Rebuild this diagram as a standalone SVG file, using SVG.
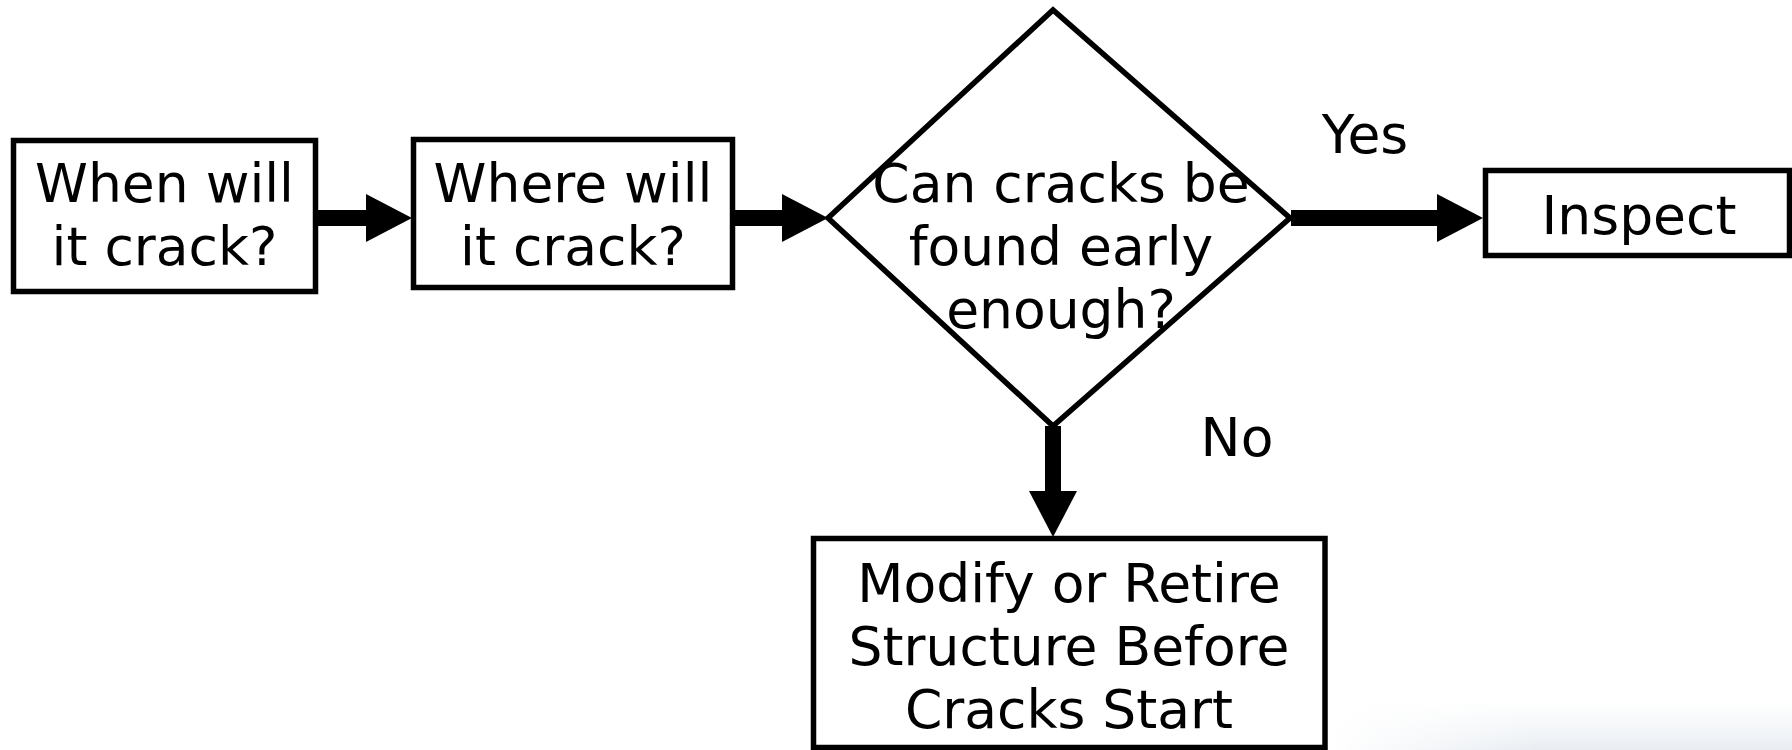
<svg xmlns="http://www.w3.org/2000/svg" width="1792" height="750" viewBox="0 0 1792 750">
  <style>
    .box { fill: #ffffff; stroke: #000000; stroke-width: 5.5; }
    .lbl { font-family: "DejaVu Sans", "Verdana", sans-serif; font-size: 53.5px; fill: #000000; text-anchor: middle; }
    .edge { stroke: #000000; stroke-width: 16; fill: none; marker-end: url(#head); }
  </style>
  <defs>
    <marker id="head" markerUnits="userSpaceOnUse" markerWidth="47" markerHeight="48" refX="0" refY="24" orient="auto" overflow="visible">
      <path d="M0,0 L46,24 L0,48 Z" fill="#000000"/>
    </marker>
    <linearGradient id="fadeV" x1="0" y1="0" x2="0" y2="1">
      <stop offset="0" stop-color="#eef2f6" stop-opacity="0"/>
      <stop offset="1" stop-color="#e8edf2" stop-opacity="1"/>
    </linearGradient>
    <linearGradient id="fadeH" x1="0" y1="0" x2="1" y2="0">
      <stop offset="0" stop-color="#ffffff" stop-opacity="1"/>
      <stop offset="0.45" stop-color="#ffffff" stop-opacity="0"/>
    </linearGradient>
  </defs>
  <rect x="0" y="0" width="1792" height="750" fill="#ffffff"/>
  <g id="background-fade">
    <rect x="1330" y="700" width="462" height="50" fill="url(#fadeV)"/>
    <rect x="1330" y="700" width="462" height="50" fill="url(#fadeH)"/>
  </g>

  <g id="connectors">
    <line class="edge" x1="318" y1="218" x2="366" y2="218"/>
    <line class="edge" x1="735" y1="218" x2="782" y2="218"/>
    <line class="edge" x1="1291" y1="218" x2="1437" y2="218"/>
    <line class="edge" x1="1053" y1="426" x2="1053" y2="491"/>
  </g>

  <g id="node-when">
    <rect class="box" x="13.5" y="140.5" width="302" height="151"/>
    <text class="lbl" x="164.5" y="202">When will</text>
    <text class="lbl" x="164.5" y="265">it crack?</text>
  </g>

  <g id="node-where">
    <rect class="box" x="413.5" y="139.5" width="319" height="148"/>
    <text class="lbl" x="573" y="202">Where will</text>
    <text class="lbl" x="573" y="265">it crack?</text>
  </g>

  <g id="node-decision">
    <polygon class="box" points="828,218 1053,10 1290,218 1053,426"/>
    <text class="lbl" x="1061" y="202">Can cracks be</text>
    <text class="lbl" x="1061" y="265">found early</text>
    <text class="lbl" x="1061" y="328">enough?</text>
  </g>

  <g id="node-inspect">
    <rect class="box" x="1485.5" y="170.5" width="304" height="85"/>
    <text class="lbl" x="1639" y="234">Inspect</text>
  </g>

  <g id="node-modify">
    <rect class="box" x="813.5" y="538.5" width="511.5" height="209"/>
    <text class="lbl" x="1069" y="602">Modify or Retire</text>
    <text class="lbl" x="1069" y="665">Structure Before</text>
    <text class="lbl" x="1069" y="728">Cracks Start</text>
  </g>

  <g id="edge-labels">
    <text class="lbl" x="1365" y="153">Yes</text>
    <text class="lbl" x="1237" y="456">No</text>
  </g>
</svg>
